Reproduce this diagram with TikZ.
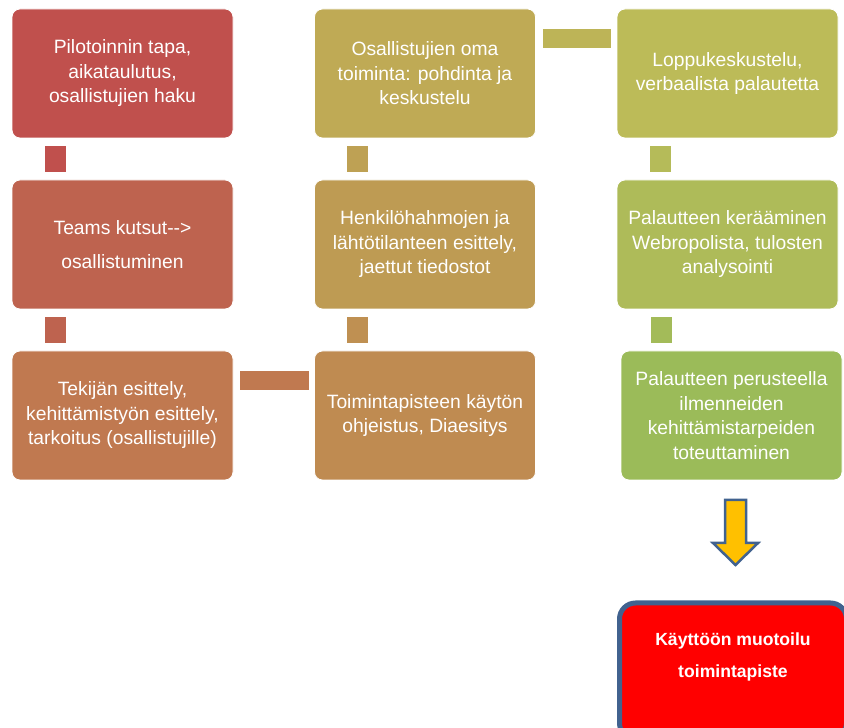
\documentclass[tikz,border=0pt]{standalone}
\usepackage{fontspec}
\setmainfont{Liberation Sans}
\usepackage{tikz}
\usetikzlibrary{positioning}
\definecolor{c11}{HTML}{C0504D}
\definecolor{c21}{HTML}{BE634F}
\definecolor{c31}{HTML}{C07950}
\definecolor{c32}{HTML}{BF8B51}
\definecolor{c22}{HTML}{BE9B53}
\definecolor{c12}{HTML}{BFAA55}
\definecolor{c13}{HTML}{BCBB58}
\definecolor{c23}{HTML}{AEBB59}
\definecolor{c33}{HTML}{9BBB59}
\definecolor{finalred}{HTML}{FF0000}
\definecolor{finalblue}{HTML}{41628F}
\definecolor{arrowyellow}{HTML}{FFC000}
\tikzset{
    mybox/.style={rectangle,rounded corners=8pt,draw=white,line width=0.8pt,fill=#1,minimum width=221pt,minimum height=129pt,inner sep=0pt,text=white,align=center,font=\fontsize{19.3}{24.5}\selectfont},
    mylink/.style={draw=#1,line width=21pt,shorten <=8pt,shorten >=8pt},
    mysidelink/.style={draw=#1,line width=19pt,shorten <=7pt,shorten >=5.5pt},
    myfinal/.style={rectangle,rounded corners=16pt,draw=finalblue,line width=5pt,fill=finalred,minimum width=227pt,minimum height=136pt},
    myfinaltext/.style={text=white,align=center,font=\bfseries\fontsize{17.6}{32}\selectfont},
    mybigarrow/.style={draw=finalblue,line width=2.5pt,fill=arrowyellow,line join=miter}
}
\begin{document}
\begin{tikzpicture}[x=1pt,y=1pt,node distance=171pt and 302.5pt,on grid]
    \useasboundingbox (0,0) rectangle (844,728);
    \node[mybox=c11] (11) at (122.5,654.5) {Pilotoinnin tapa,\\aikataulutus,\\osallistujien haku};
    \node[mybox=c21] (21) [below =of 11] {Teams kutsut-{}-{}>\\[9pt]osallistuminen};
    \node[mybox=c31] (31) [below =of 21] {Tekijän esittely,\\kehittämistyön esittely,\\tarkoitus (osallistujille)};
    \node[mybox=c32] (32) [right =of 31] {Toimintapisteen käytön\\ohjeistus, Diaesitys};
    \node[mybox=c22] (22) [above =of 32] {Henkilöhahmojen ja\\lähtötilanteen esittely,\\jaettut tiedostot};
    \node[mybox=c12] (12) [above =of 22] {Osallistujien oma\\toiminta: pohdinta ja\\keskustelu};
    \node[mybox=c13] (13) [right =of 12] {Loppukeskustelu,\\verbaalista palautetta};
    \node[mybox=c23] (23) [below =of 13] {Palautteen kerääminen\\Webropolista, tulosten\\analysointi};
    \node[mybox=c33] (33) [below =of 23, xshift=4pt] {Palautteen perusteella\\ilmenneiden\\kehittämistarpeiden\\toteuttaminen};
    \node[myfinal] (40) at (733,57) {};
    \node[myfinaltext] (41) at ([yshift=-56pt]40.north) {Käyttöön muotoilu\\toimintapiste};
    \path ([xshift=-67pt]11.south) edge [mylink=c11] ([xshift=-67pt]21.north)
          ([xshift=-67pt]21.south) edge [mylink=c21] ([xshift=-67pt]31.north)
          ([yshift=35pt]31.east)   edge [mysidelink=c31] ([yshift=35pt]32.west)
          ([xshift=-67.5pt]32.north) edge [mylink=c32!70!c22] ([xshift=-67.5pt]22.south)
          ([xshift=-67.5pt]22.north) edge [mylink=c22!60!c12] ([xshift=-67.5pt]12.south)
          ([yshift=34.5pt]12.east) edge [mysidelink=c12!40!c13] ([yshift=34.5pt]13.west)
          ([xshift=-67pt]13.south) edge [mylink=c13!50!c23] ([xshift=-67pt]23.south |- 23.north)
          ([xshift=-66pt]23.south) edge [mylink=c23!40!c33] ([xshift=-70pt]33.north);
    % arrow down to the final box
    \draw[mybigarrow] (725,228) -- (746,228) -- (746,185) -- (758,185) -- (735.5,163)
        -- (713,185) -- (725,185) -- cycle;
\end{tikzpicture}
\end{document}
